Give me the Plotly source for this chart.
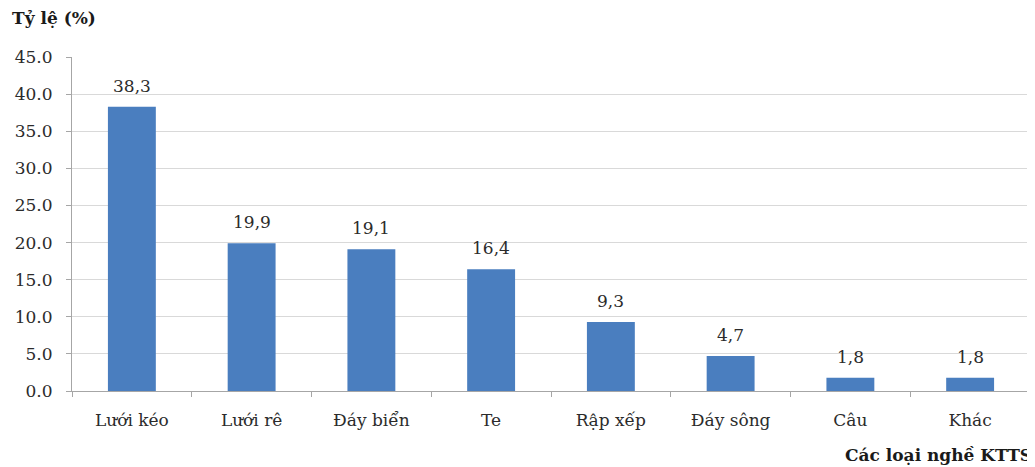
import plotly.graph_objects as go

categories = ["Lưới kéo", "Lưới rê", "Đáy biển", "Te", "Rập xếp", "Đáy sông", "Câu", "Khác"]
values = [38.3, 19.9, 19.1, 16.4, 9.3, 4.7, 1.8, 1.8]
value_labels = ["38,3", "19,9", "19,1", "16,4", "9,3", "4,7", "1,8", "1,8"]
y_ticks = [0, 5, 10, 15, 20, 25, 30, 35, 40, 45]

FONT = "DejaVu Serif"
TXT = "#2b2b2b"

fig = go.Figure(
    go.Bar(
        x=categories,
        y=values,
        marker=dict(color="#4a7ebf", line=dict(width=0)),
    )
)

annotations = [
    dict(x=c, y=v, text=t, xref="x", yref="y", yanchor="bottom", yshift=9,
         showarrow=False, font=dict(family=FONT, size=17, color=TXT))
    for c, v, t in zip(categories, values, value_labels)
]
annotations += [
    dict(text="<b>Tỷ lệ (%)</b>", xref="paper", yref="paper", x=0, y=1.0,
         xshift=-62, yshift=39, xanchor="left", yanchor="middle", showarrow=False,
         font=dict(family=FONT, size=17, color="#1a1a1a")),
    dict(text="<b>Các loại nghề KTTS</b>", xref="paper", yref="paper", x=1.0, y=0,
         xshift=4, yshift=-64, xanchor="right", yanchor="middle", showarrow=False,
         font=dict(family=FONT, size=17, color="#1a1a1a")),
]

fig.update_layout(
    width=1027,
    height=459,
    margin=dict(l=64, r=5, t=49, b=76),
    paper_bgcolor="white",
    plot_bgcolor="white",
    bargap=0.6,
    showlegend=False,
    font=dict(family=FONT, size=17, color=TXT),
    annotations=annotations,
)

fig.update_yaxes(
    range=[0, 45],
    tickvals=y_ticks,
    ticktext=[f"{v:.1f}" for v in y_ticks],
    showgrid=True,
    gridcolor="#d9d9d9",
    gridwidth=1,
    showline=True,
    linecolor="#a6a6a6",
    ticks="outside",
    ticklen=5,
    tickcolor="#a6a6a6",
    ticklabelstandoff=10,
    zeroline=False,
    tickfont=dict(family=FONT, size=17, color=TXT),
)

fig.update_xaxes(
    showline=True,
    linecolor="#a6a6a6",
    ticks="outside",
    tickson="boundaries",
    ticklen=5,
    tickcolor="#a6a6a6",
    ticklabelstandoff=14,
    tickfont=dict(family=FONT, size=17, color=TXT),
)

fig.write_html("out.html")
